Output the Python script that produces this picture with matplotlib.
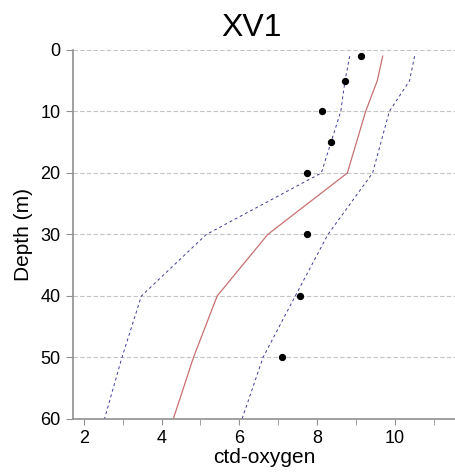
import matplotlib.pyplot as plt
from matplotlib.ticker import MultipleLocator

plt.rcParams['font.family'] = ['Liberation Sans', 'DejaVu Sans']

# observed ctd-oxygen (points)
obs_depth = [1, 5, 10, 15, 20, 30, 40, 50]
obs_oxy = [9.12, 8.73, 8.12, 8.37, 7.75, 7.75, 7.57, 7.09]

# model mean and bounds (lines)
line_depth = [1, 5, 10, 20, 30, 40, 50, 60]
mean_oxy = [9.69, 9.55, 9.25, 8.78, 6.73, 5.43, 4.82, 4.30]
low_oxy = [8.84, 8.72, 8.61, 8.11, 5.15, 3.48, 2.98, 2.53]
high_oxy = [10.51, 10.38, 9.86, 9.43, 8.28, 7.44, 6.61, 6.07]

fig = plt.figure(figsize=(4.55, 4.72), dpi=100)
ax = fig.add_axes([0.1604, 0.1123, 0.8396, 0.7818])

grid_c = '#c4c4c4'
for d in [0, 10, 20, 30, 40, 50]:
    ax.axhline(d, color=grid_c, lw=0.8, ls=(0, (4, 2)), zorder=0)

ax.plot(low_oxy, line_depth, color='#3c3c96', lw=0.7, ls=(0, (3, 3)))
ax.plot(high_oxy, line_depth, color='#3c3c96', lw=0.7, ls=(0, (3, 3)))
ax.plot(mean_oxy, line_depth, color='#c87070', lw=0.9)
ax.scatter(obs_oxy, obs_depth, s=18, color='black', zorder=5)

ax.set_xlim(1.72, 11.55)
ax.set_ylim(60, 0)
ax.xaxis.set_major_locator(MultipleLocator(2))
ax.xaxis.set_minor_locator(MultipleLocator(1))
ax.yaxis.set_major_locator(MultipleLocator(10))

for s in ['top', 'right']:
    ax.spines[s].set_visible(False)
for s in ['left', 'bottom']:
    ax.spines[s].set_color('#909090')
    ax.spines[s].set_linewidth(1.2)

ax.tick_params(axis='x', which='both', direction='out', length=4, color='#909090', labelsize=13, pad=4)
ax.tick_params(axis='y', which='both', direction='out', length=5, color='#909090', labelsize=13, pad=4)

ax.set_xlabel('ctd-oxygen', fontsize=15, labelpad=1)
ax.set_ylabel('Depth (m)', fontsize=15, labelpad=5)
ax.set_title('XV1', fontsize=23, pad=10, x=0.4686)

fig.savefig('out.png', dpi=100)
